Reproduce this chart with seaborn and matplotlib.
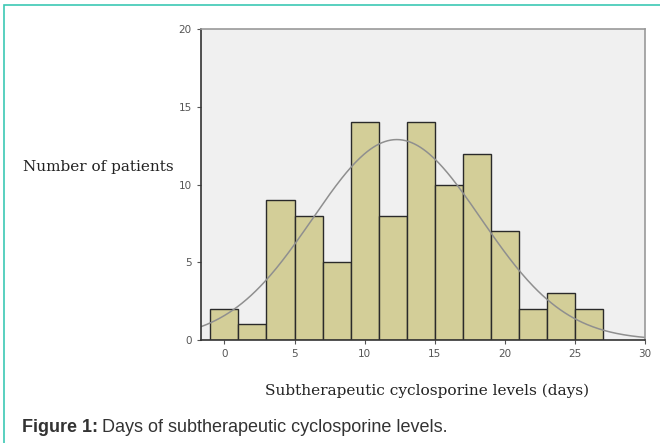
import numpy as np
import pandas as pd
import matplotlib
matplotlib.use("Agg")
import matplotlib.pyplot as plt
from matplotlib.patches import Rectangle
import seaborn as sns

# Data
bin_start = -1
bin_width = 2
counts = [2, 1, 9, 8, 5, 14, 8, 14, 10, 12, 7, 2, 3, 2]
curve_mean = 12.3
curve_sd = 6.0
x_ticks = [0, 5, 10, 15, 20, 25, 30]
y_ticks = [0, 5, 10, 15, 20]

edges = [bin_start + bin_width * i for i in range(len(counts) + 1)]
centers = [e + bin_width / 2 for e in edges[:-1]]
df = pd.DataFrame({"days": centers, "n": counts})

sns.set_style("ticks")
W, H = 660, 443
fig = plt.figure(figsize=(6.6, 4.43), dpi=100)
ax = fig.add_axes([0.304, 0.2325, 0.673, 0.7015])
ax.set_facecolor("#F0F0F0")

sns.histplot(data=df, x="days", weights="n", bins=edges, ax=ax,
             color="#D3CE98", alpha=1, edgecolor="#2a2a2a", linewidth=1.0)

xs = np.linspace(-1.7, 30, 300)
total = sum(counts)
ys = total * bin_width / (curve_sd * np.sqrt(2 * np.pi)) * np.exp(-0.5 * ((xs - curve_mean) / curve_sd) ** 2)
sns.lineplot(x=xs, y=ys, ax=ax, color="#8f8f8f", linewidth=1.1)

ax.set_xlim(-1.7, 30)
ax.set_ylim(0, 20)
ax.set_xticks(x_ticks)
ax.set_yticks(y_ticks)
ax.tick_params(axis="both", labelsize=7.5, colors="#555555", length=3, width=0.8)
ax.set_xlabel("")
ax.set_ylabel("")
for s in ["top", "right"]:
    ax.spines[s].set_visible(True)
    ax.spines[s].set_color("#999999")
    ax.spines[s].set_linewidth(1.2)
for s in ["left", "bottom"]:
    ax.spines[s].set_color("#333333")
    ax.spines[s].set_linewidth(1.2)

renderer = fig.canvas.get_renderer()


def fit(t, target_px):
    fs = t.get_fontsize()
    w = t.get_window_extent(renderer).width
    t.set_fontsize(fs * target_px / w)


yl = fig.text(23 / W, 1 - 167 / H, "Number of patients", family="DejaVu Serif",
              fontsize=11, ha="left", va="center", color="#222222")
fit(yl, 151)
xl = fig.text(427.5 / W, 1 - 391 / H, "Subtherapeutic cyclosporine levels (days)",
              family="DejaVu Serif", fontsize=11, ha="center", va="center", color="#222222")
fit(xl, 325)

cap_fs = 13
t1 = fig.text(22 / W, 1 - 428 / H, "Figure 1:", family="Liberation Sans", fontweight="bold",
              fontsize=cap_fs, ha="left", va="center", color="#333333")
bb = t1.get_window_extent(renderer)
t2 = fig.text((bb.x1 + 4) / W, 1 - 428 / H, "Days of subtherapeutic cyclosporine levels.",
              family="Liberation Sans", fontsize=cap_fs, ha="left", va="center", color="#333333")

fig.patches.append(Rectangle((4 / W, -0.1), 1.2, 1 - 5 / H + 0.1, transform=fig.transFigure,
                             fill=False, edgecolor="#3CC8B4", linewidth=1.2, figure=fig))

fig.savefig("out.png", dpi=100)
